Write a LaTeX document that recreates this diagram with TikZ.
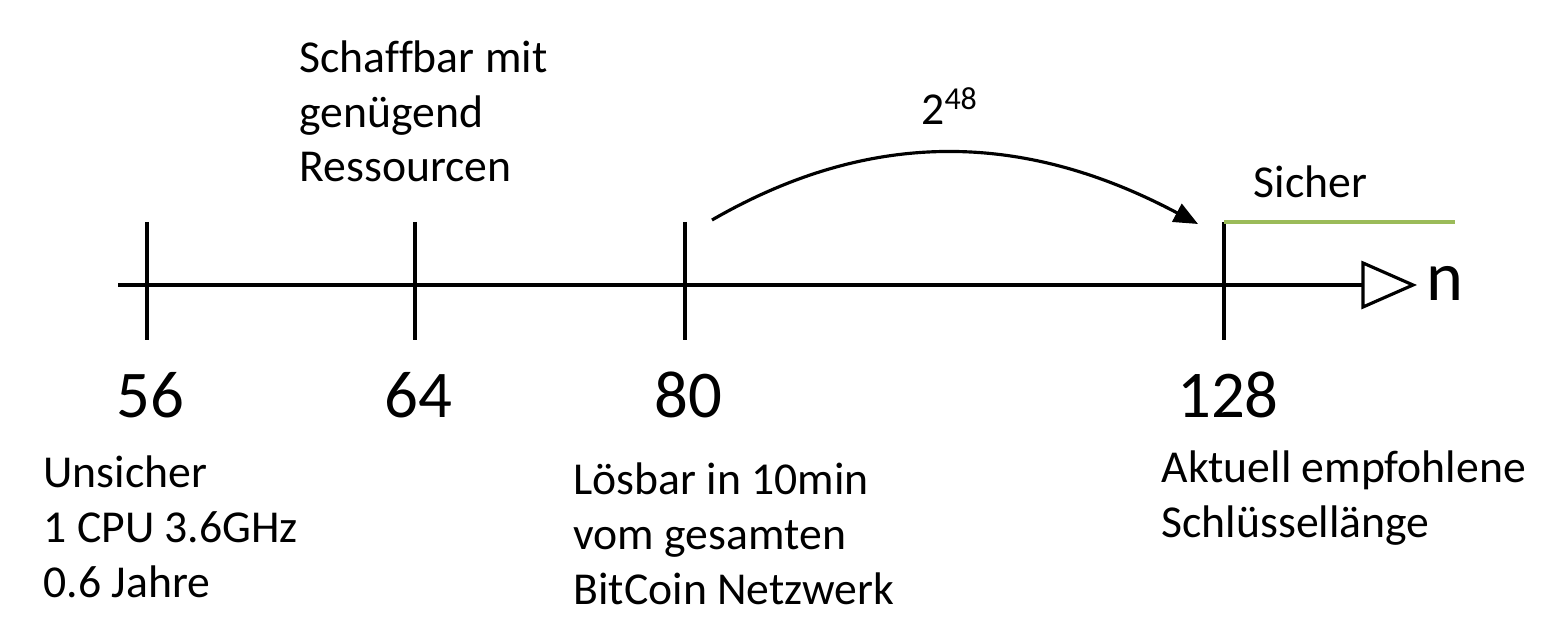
\documentclass[tikz,border=0pt]{standalone}
\usepackage{fontspec}
\setmainfont[Ligatures=NoCommon]{Carlito}
\usetikzlibrary{arrows.meta}

\definecolor{safegreen}{RGB}{155,187,89}

\tikzset{
  label text/.style={inner sep=0pt,align=left,font=\fontsize{13}{15.6}\selectfont},
  bit number/.style={inner sep=0pt,anchor=base,font=\fontsize{19}{23}\selectfont},
  tick line/.style={line width=0.9pt},
}

\begin{document}
\begin{tikzpicture}[x=1cm,y=1cm,line width=0.9pt]
\useasboundingbox (0,0) rectangle (15.57,6.41);
% axis
\coordinate (axstart) at (1.18,3.56);
\coordinate (axend) at (13.63,3.56);
\draw (axstart) -- (axend);
\draw (13.63,3.78) -- (14.13,3.56) -- (13.63,3.34) -- cycle;
\node[inner sep=0pt,anchor=base west,font=\fontsize{20}{24}\selectfont] (axlabel) at (14.25,3.40) {n};
% ticks
\coordinate (t56top) at (1.47,4.19);   \coordinate (t56bot) at (1.47,3.01);
\coordinate (t64top) at (4.15,4.19);   \coordinate (t64bot) at (4.15,3.01);
\coordinate (t80top) at (6.85,4.19);   \coordinate (t80bot) at (6.85,3.01);
\coordinate (t128top) at (12.24,4.19); \coordinate (t128bot) at (12.24,3.01);
\draw[tick line] (t56top) -- (t56bot);
\draw[tick line] (t64top) -- (t64bot);
\draw[tick line] (t80top) -- (t80bot);
\draw[tick line] (t128top) -- (t128bot);
% secure range
\coordinate (safeend) at (14.55,4.19);
\draw[safegreen] (t128top) -- (safeend);
\node[label text,anchor=base west] (safe) at (12.52,4.43) {Sicher};
% numbers
\node[bit number] (n56) at (1.50,2.23) {56};
\node[bit number] (n64) at (4.18,2.23) {64};
\node[bit number] (n80) at (6.88,2.23) {80};
\node[bit number] (n128) at (12.28,2.23) {128};
% jump
\coordinate (jumpstart) at (7.12,4.21);
\coordinate (jumpend) at (11.98,4.17);
\draw[-{Triangle[length=2.4mm,width=2mm]}] (jumpstart) to[out=30,in=152] (jumpend);
\node[label text,anchor=base] (jump) at (9.50,5.16) {2\textsuperscript{48}};
% descriptions (base = last line)
\node[label text,anchor=base west] (res) at (2.98,4.59) {Schaffbar mit\\genügend\\Ressourcen};
\node[label text,anchor=base west] (unsafe) at (0.42,0.44) {Unsicher\\1 CPU 3.6GHz\\0.6 Jahre};
\node[label text,anchor=base west] (btc) at (5.72,0.37) {Lösbar in 10min\\vom gesamten\\BitCoin Netzwerk};
\node[label text,anchor=base west] (rec) at (11.60,1.04) {Aktuell empfohlene\\Schlüssellänge};
\end{tikzpicture}
\end{document}
